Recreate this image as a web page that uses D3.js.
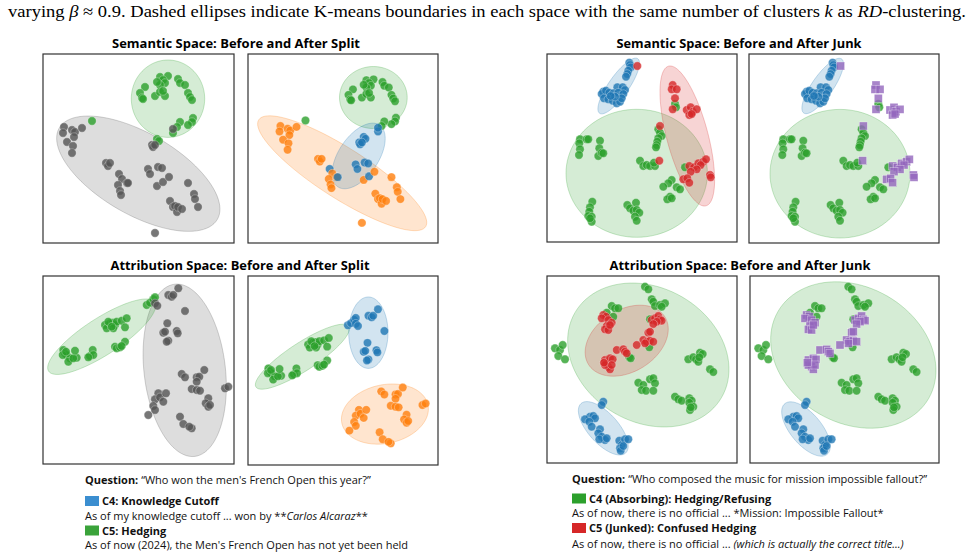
<!DOCTYPE html>
<html>
<head>
<meta charset="utf-8">
<script src="https://cdn.jsdelivr.net/npm/d3@7"></script>
<style>
  body { margin: 0; background: #fff; }
  svg { display: block; }
</style>
</head>
<body>
<div id="chart"></div>
<script>
// points: [x, y, clusterBefore, clusterAfter] in the "before" panel frame
var semSplitPts = [
  [117,23,"g","g"],[125,22,"g","g"],[120,26,"g","g"],[122,29,"g","g"],[117,31,"g","g"],[114,28,"g","g"],
  [102,33,"g","g"],[97,39,"g","g"],[99,44,"g","g"],[100,45,"g","g"],[112,42,"g","g"],[117,38,"g","g"],
  [122,42,"g","g"],[120,37,"g","g"],[135,25,"g","g"],[137,29,"g","g"],[142,31,"g","g"],[145,39,"g","g"],
  [147,43,"g","g"],[149,46,"g","g"],[150,64,"g","g"],[149,68,"g","g"],[145,71,"g","g"],[137,68,"g","g"],
  [134,73,"g","g"],[130,79,"g","b"],[114,85,"g","b"],[116,87,"g","b"],[49,67,"g","g"],
  [130,75,"k","b"],
  [21,73,"k","o"],[20,79,"k","o"],[29,76,"k","o"],[32,78,"k","o"],[39,74,"k","o"],[31,83,"k","o"],
  [24,88,"k","o"],[30,92,"k","o"],[29,99,"k","o"],
  [109,91,"k","b"],[110,93,"k","b"],[112,91,"k","b"],
  [63,109,"k","o"],[65,112,"k","o"],[67,109,"k","o"],
  [76,120,"k","b"],[79,125,"k","o"],[75,131,"k","o"],[77,137,"k","o"],[78,141,"k","o"],[84,129,"k","o"],[85,129,"k","b"],
  [105,115,"k","b"],[107,120,"k","b"],[115,113,"k","b"],[119,114,"k","b"],
  [114,132,"k","o"],[120,128,"k","b"],[126,123,"k","o"],
  [145,129,"k","o"],[151,140,"k","o"],[152,145,"k","o"],[155,153,"k","o"],
  [127,147,"k","o"],[130,153,"k","o"],[132,152,"k","o"],[134,158,"k","o"],[135,153,"k","o"],[139,155,"k","o"],
  [112,179,"k","o"]
];

var semJunkPts = [
  [82.3,8.7,"b","b"],[83,11,"b","b"],[83.7,13.3,"b","b"],[81.3,16.7,"b","b"],[80.3,20,"b","b"],[79,22.7,"b","b"],
  [70.3,33.3,"b","b"],[75.7,33.3,"b","b"],[78,36,"b","b"],[56.3,37.7,"b","b"],[54.7,40,"b","b"],[59,36.7,"b","b"],
  [62.3,38.7,"b","b"],[66.3,39.3,"b","b"],[71.3,38.7,"b","b"],[76.3,40,"b","b"],[57,44.3,"b","b"],[61.3,45.3,"b","b"],
  [65.7,46.7,"b","b"],[69.7,49.3,"b","b"],[73,47.7,"b","b"],[74.7,44.3,"b","b"],[68,42.7,"b","b"],[63.7,42,"b","b"],
  [128,50,"g","g"],[129,53.3,"g","g"],[138,113.3,"g","g"],
  [111.3,75.3,"g","g"],[113,78.7,"g","g"],[114.7,82,"g","g"],[111.3,84.3,"g","g"],[110.3,87.7,"g","g"],[109.7,91,"g","g"],[109,93.3,"g","g"],
  [33,85.3,"g","g"],[32.3,89.3,"g","g"],[33,95.3,"g","g"],[32,101,"g","g"],[39.7,85.3,"g","g"],[41.3,85.3,"g","g"],
  [53,86.7,"g","g"],[52.3,94.3,"g","g"],[51.3,102,"g","g"],[54.7,98.7,"g","g"],[56.3,99.3,"g","g"],
  [93,106.7,"g","g"],[96.3,112,"g","g"],[99.7,111,"g","g"],[103,112,"g","g"],[108,112,"g","g"],[107,108.7,"g","g"],
  [124.7,126,"g","g"],[121.3,129.3,"g","g"],[116.3,132.7,"g","g"],[123,142.7,"g","g"],[120.3,145.3,"g","g"],
  [124.7,144.3,"g","g"],[129.7,133.3,"g","g"],[133,135.3,"g","g"],
  [45.3,147.7,"g","g"],[43,153.3,"g","g"],[42.3,157.7,"g","g"],[41.3,162,"g","g"],[44.7,162.7,"g","g"],[44.7,167.7,"g","g"],[43,164.3,"g","g"],
  [80.3,151,"g","g"],[83,154.3,"g","g"],[89,148.7,"g","g"],[86.3,156.7,"g","g"],[89.7,156,"g","g"],[92.3,158.7,"g","g"],
  [88,162.7,"g","g"],[89.7,166.7,"g","g"],
  [90.3,12,"r","p"],[125.7,31,"r","p"],[124.7,35.3,"r","p"],[129.7,35.3,"r","p"],[128,44.3,"r","p"],[125.7,55.3,"r","p"],
  [139.7,56,"r","p"],[143.7,53.3,"r","p"],[145.7,57.7,"r","p"],[149.7,55.3,"r","p"],[142.3,61,"r","p"],[144.7,60,"r","p"],
  [113,72,"r","p"],[112.3,106.7,"r","p"],[142.3,112,"r","p"],[147,113.3,"r","p"],[151.3,109.3,"r","p"],[156.3,107.7,"r","p"],
  [159,105.3,"r","p"],[153.7,111,"r","p"],[149.7,115.3,"r","p"],[143.7,117.7,"r","p"],[136.3,125.3,"r","p"],
  [140.3,124.3,"r","p"],[142.3,128.7,"r","p"],[163,121,"r","p"],[163.7,123.3,"r","p"]
];

var attSplitPts = [
  [20.3,74,"g","g"],[22,77.3,"g","g"],[23.7,79,"g","g"],[19.7,79,"g","g"],[27,82.3,"g","g"],[25.3,85.7,"g","g"],
  [33.7,81.7,"g","g"],[30.3,82.3,"g","g"],[32,74.7,"g","g"],[23,75.7,"g","g"],
  [47,80,"g","g"],[49.7,74,"g","g"],[50.3,79,"g","g"],[45.3,81.3,"g","g"],
  [62,49,"g","g"],[63.7,52.3,"g","g"],[67,47.3,"g","g"],[69.7,46.7,"g","g"],[72,49,"g","g"],[70.3,52.3,"g","g"],
  [73.7,45.7,"g","g"],[78.7,44.7,"g","g"],[82,51.3,"g","g"],[83.7,42.3,"g","g"],[65.3,45.7,"g","g"],[68.7,50.7,"g","g"],
  [72,70.7,"g","g"],[73.7,72.3,"g","g"],[77,71.3,"g","g"],[82,65.7,"g","g"],[78.7,70,"g","g"],
  [103.7,29,"g","b"],[107,26.7,"g","b"],[110.3,23.3,"g","b"],[112,21.3,"g","b"],
  [112,27.3,"k","b"],[114.3,29.7,"k","b"],[125.3,19,"k","b"],[128.7,20.7,"k","b"],[130.3,19,"k","b"],[135.3,12.3,"k","b"],
  [142,35,"k","b"],[124.3,47.3,"k","b"],[120.3,56.7,"k","b"],[122,55.7,"k","b"],[133.7,55,"k","b"],[134.7,57.3,"k","b"],
  [125.3,64.7,"k","b"],[123.7,65.7,"k","b"],
  [138.7,98,"k","o"],[142,101.3,"k","o"],[153.7,101.3,"k","o"],[156.3,100.7,"k","o"],[153.7,105.7,"k","o"],
  [148.7,113,"k","o"],[153.7,114,"k","o"],[157,114.7,"k","o"],[161.3,94,"k","o"],
  [115.3,117.3,"k","o"],[112,123.3,"k","o"],[117,121.3,"k","o"],[120.3,125.7,"k","o"],[123,117.3,"k","o"],
  [110.3,130,"k","o"],[112,134,"k","o"],[105.3,139,"k","o"],
  [165.3,122.3,"k","o"],[162.7,127.3,"k","o"],[165.3,130.7,"k","o"],[167,129,"k","o"],
  [182,112.3,"k","o"],[185.3,110.7,"k","o"],
  [137,140.7,"k","o"],[140.3,148,"k","o"],[148.7,152.3,"k","o"],[146.3,150.7,"k","o"]
];

var attJunkPts = [
  [8,72.3,"g","g"],[13,74,"g","g"],[15.7,69,"g","g"],[11.3,80,"g","g"],[18,83.3,"g","g"],
  [98,10.7,"g","g"],[101.3,13.3,"g","g"],[104.7,23.3,"g","g"],[106.3,25.7,"g","g"],[108,30,"g","g"],
  [113,29,"g","g"],[118,27.3,"g","g"],[114.7,30.7,"g","g"],
  [64.7,30,"g","g"],[68,32.3,"g","g"],[71.3,32.3,"g","g"],[59.7,36.7,"g","g"],[66.3,40.7,"g","g"],
  [103,43.3,"g","g"],[102.3,71.3,"g","g"],[82.3,81.3,"g","g"],[83.7,82.3,"g","g"],
  [141.3,83.3,"g","g"],[146.3,81.3,"g","g"],[149,83.3,"g","g"],[151.3,85.7,"g","g"],[153,76.7,"g","g"],
  [155.7,78,"g","g"],[152.3,81.3,"g","g"],[163,93.3,"g","g"],[166.3,96,"g","g"],
  [91.3,106.7,"g","g"],[96.3,109,"g","g"],[94.7,114,"g","g"],[99,114.7,"g","g"],[103,103.3,"g","g"],
  [106.3,102.3,"g","g"],[108,107.3,"g","g"],[106.3,114.7,"g","g"],
  [128,120.7,"g","g"],[131.3,123.3,"g","g"],[134.7,124.7,"g","g"],[142.3,122.3,"g","g"],[144.7,124.7,"g","g"],
  [142.3,126.7,"g","g"],[146.3,130.7,"g","g"],[143,134,"g","g"],[143.7,131.3,"g","g"],
  [56.3,39,"r","p"],[59,40.7,"r","p"],[54.7,42.3,"r","p"],[61.3,44,"r","p"],[64.7,46.7,"r","p"],[59.7,50,"r","p"],
  [58,53.3,"r","p"],[61.3,54,"r","p"],[63,49,"r","p"],
  [104.7,44,"r","p"],[108,42.3,"r","p"],[111.3,40,"r","p"],[113,43.3,"r","p"],[114.7,44.7,"r","p"],[109.7,45.7,"r","p"],
  [106.3,48,"r","p"],[101.3,56.7,"r","p"],[103,55.7,"r","p"],[96.3,64,"r","p"],[99.7,65.7,"r","p"],[103,64.7,"r","p"],
  [106.3,65.7,"r","p"],[98,67.3,"r","p"],
  [69.7,74,"r","p"],[76.3,73.3,"r","p"],[78,75.7,"r","p"],[79.7,77.3,"r","p"],[89.7,69,"r","p"],
  [58,84,"r","p"],[59.7,87.3,"r","p"],[63,82.3,"r","p"],[65.7,83.3,"r","p"],[61.3,90.7,"r","p"],[63,93.3,"r","p"],
  [58,89,"r","p"],[64.7,89,"r","p"],[57,86.7,"r","p"],
  [56.3,125.7,"b","b"],[54.7,129,"b","b"],[43,140.7,"b","b"],[38,143.3,"b","b"],[46.3,140,"b","b"],[48,142.3,"b","b"],
  [42.3,145.7,"b","b"],[44.7,150.7,"b","b"],[53,153.3,"b","b"],[51.3,157.3,"b","b"],[54.7,160.7,"b","b"],
  [58,164,"b","b"],[52.3,163.3,"b","b"],[59.7,162.3,"b","b"],[72.3,164.7,"b","b"],[74.7,169,"b","b"],
  [73,172.3,"b","b"],[78,163.3,"b","b"],[81.3,163.3,"b","b"],[73.7,174.7,"b","b"],[76.3,170,"b","b"]
];

// cluster ellipses: [cluster, cx, cy, semi-axis a, semi-axis b, angle deg]
var semSplitEllBefore = [["k",95.3,119.7,91.3,40.7,30],["g",125,44.7,36.7,38.7,0]];
var semSplitEllAfter = [["o",90,124.7,110,27.6,32],["g",124.8,41.9,37.8,33.9,0],["b",108.4,105.8,41,22,-55]];
var semJunkEllBefore = [["g",89.7,119.3,70.7,64,0],["r",140.3,82,72.3,20.6,75],["b",71.7,32,33.3,10,-55]];
var semJunkEllAfter = [["g",89.7,119.7,70,64.3,0],["b",72.4,32,33,10.5,-55]];
var attSplitEllBefore = [["k",141.7,94.3,40.7,86.7,-6.6],["g",58.7,60.7,63.3,18.3,-33]];
var attSplitEllAfter = [["g",56,61.8,58.1,14.6,-33],["b",125.2,36.7,20.6,37.3,0],["o",142.6,121.7,46.2,30.6,-12]];
var attJunkEllBefore = [["g",101.3,79,84.7,67.2,30],["r",79.7,64.7,45,31,-32],["b",56.3,152.3,33.3,15,48]];
var attJunkEllAfter = [["g",103,79,87,68,30],["b",55.7,153,33,15.5,50]];

var clusterColors = { g: "#2ca02c", k: "#555555", o: "#ff7f0e", b: "#1f77b4", r: "#d62728", p: "#9467bd" };

var w = 980, h = 558;

var svg = d3.select("#chart").append("svg")
    .attr("width", w)
    .attr("height", h)
    .style("font-family", "'Open Sans', 'Noto Sans', sans-serif");

function drawPanel(box, xDom, yDom, pts, which, ells) {
    var x = d3.scaleLinear().domain(xDom).range([box[0], box[1]]);
    var y = d3.scaleLinear().domain(yDom).range([box[2], box[3]]);
    var g = svg.append("g");

    // cluster ellipses, sampled in data space
    var line = d3.line().x(function(d) { return x(d[0]); }).y(function(d) { return y(d[1]); })
        .curve(d3.curveLinearClosed);
    ells.forEach(function(e) {
        var rad = e[5] * Math.PI / 180;
        var ring = d3.range(0, 96).map(function(i) {
            var t = i / 96 * 2 * Math.PI;
            var px = e[3] * Math.cos(t), py = e[4] * Math.sin(t);
            return [e[1] + px * Math.cos(rad) - py * Math.sin(rad),
                    e[2] + px * Math.sin(rad) + py * Math.cos(rad)];
        });
        g.append("path")
            .attr("d", line(ring))
            .attr("fill", clusterColors[e[0]])
            .attr("fill-opacity", 0.2)
            .attr("stroke", clusterColors[e[0]])
            .attr("stroke-opacity", 0.25)
            .attr("stroke-width", 1);
    });

    var circ = pts.filter(function(d) { return d[which] !== "p"; });
    var sq = pts.filter(function(d) { return d[which] === "p"; });

    g.selectAll("circle.pt")
        .data(circ)
        .enter()
        .append("circle")
        .attr("class", "pt")
        .attr("cx", function(d) { return x(d[0]); })
        .attr("cy", function(d) { return y(d[1]); })
        .attr("r", 4.2)
        .attr("fill", function(d) { return clusterColors[d[which]]; })
        .attr("fill-opacity", 0.8)
        .attr("stroke", "#fff")
        .attr("stroke-width", 0.5)
        .attr("stroke-opacity", 0.6);

    g.selectAll("rect.pt")
        .data(sq)
        .enter()
        .append("rect")
        .attr("class", "pt")
        .attr("x", function(d) { return x(d[0]) - 4; })
        .attr("y", function(d) { return y(d[1]) - 4; })
        .attr("width", 8)
        .attr("height", 8)
        .attr("fill", clusterColors.p)
        .attr("fill-opacity", 0.8)
        .attr("stroke", "#fff")
        .attr("stroke-width", 0.5)
        .attr("stroke-opacity", 0.6);

    g.append("rect")
        .attr("x", box[0])
        .attr("y", box[2])
        .attr("width", box[1] - box[0])
        .attr("height", box[3] - box[2])
        .attr("fill", "none")
        .attr("stroke", "#333")
        .attr("stroke-width", 1.2);
}

// top row
drawPanel([43, 234, 54, 243], [0, 191], [0, 189], semSplitPts, 2, semSplitEllBefore);
drawPanel([248, 438, 54, 243], [-15.2, 197], [-5.7, 201], semSplitPts, 3, semSplitEllAfter);
drawPanel([547, 737, 54, 242], [0, 190], [0, 188], semJunkPts, 2, semJunkEllBefore);
drawPanel([749, 939, 54, 243], [-1.3, 188.7], [0, 189], semJunkPts, 3, semJunkEllAfter);
// bottom row
drawPanel([43, 234, 276, 464], [0, 191], [0, 188], attSplitPts, 2, attSplitEllBefore);
drawPanel([248, 438, 276, 465], [-1.1, 198.3], [-22.5, 174.9], attSplitPts, 3, attSplitEllAfter);
drawPanel([547, 737, 276, 463], [0, 190], [0, 187], attJunkPts, 2, attJunkEllBefore);
drawPanel([750, 939, 276, 463], [-0.3, 188.7], [0, 187], attJunkPts, 3, attJunkEllAfter);

// panel titles
var titles = [
    ["Semantic Space: Before and After Split", 236, 48, 248],
    ["Semantic Space: Before and After Junk", 739, 48, 245],
    ["Attribution Space: Before and After Split", 240, 270, 259],
    ["Attribution Space: Before and After Junk", 740, 270, 261]
];
titles.forEach(function(t) {
    svg.append("text")
        .attr("x", t[1])
        .attr("y", t[2])
        .attr("text-anchor", "middle")
        .attr("font-size", 13)
        .attr("font-weight", "bold")
        .attr("textLength", t[3])
        .attr("lengthAdjust", "spacingAndGlyphs")
        .text(t[0]);
});

// caption line
var cap = svg.append("text")
    .attr("x", 8)
    .attr("y", 17)
    .attr("font-family", "'Liberation Serif', 'DejaVu Serif', serif")
    .attr("font-size", 17)
    .attr("textLength", 958)
    .attr("lengthAdjust", "spacingAndGlyphs");
cap.append("tspan").text("varying ");
cap.append("tspan").attr("font-style", "italic").text("β");
cap.append("tspan").text(" \u2248 0.9. Dashed ellipses indicate K-means boundaries in each space with the same number of clusters ");
cap.append("tspan").attr("font-style", "italic").text("k");
cap.append("tspan").text(" as ");
cap.append("tspan").attr("font-style", "italic").text("RD");
cap.append("tspan").text("-clustering.");

// question / cluster legends
function legendBlock(x0, rows) {
    rows.forEach(function(r) {
        var t = svg.append("text")
            .attr("x", x0 + (r.sw ? 17 : 0))
            .attr("y", r.y)
            .attr("font-size", 11)
            .attr("fill", "#111");
        if (r.sw) {
            svg.append("rect")
                .attr("x", x0)
                .attr("y", r.y - 9)
                .attr("width", 14)
                .attr("height", 10)
                .attr("fill", r.sw);
        }
        r.parts.forEach(function(p) {
            var s = t.append("tspan").text(p[0]);
            if (p[1] === "b") s.attr("font-weight", "bold");
            if (p[1] === "i") s.attr("font-style", "italic");
        });
    });
}

legendBlock(85, [
    { y: 484, parts: [["Question: ", "b"], ["\u201cWho won the men's French Open this year?\u201d", ""]] },
    { y: 505, sw: "#3b8ed0", parts: [["C4: Knowledge Cutoff", "b"]] },
    { y: 519.5, parts: [["As of my knowledge cutoff ... won by **", ""], ["Carlos Alcaraz", "i"], ["**", ""]] },
    { y: 534.5, sw: "#3aa33a", parts: [["C5: Hedging", "b"]] },
    { y: 549, parts: [["As of now (2024), the Men's French Open has not yet been held", ""]] }
]);

legendBlock(572, [
    { y: 483, parts: [["Question: ", "b"], ["\u201cWho composed the music for mission impossible fallout?\u201d", ""]] },
    { y: 502.5, sw: "#2ca02c", parts: [["C4 (Absorbing): Hedging/Refusing", "b"]] },
    { y: 517, parts: [["As of now, there is no official ... *Mission: Impossible Fallout*", ""]] },
    { y: 532, sw: "#d62728", parts: [["C5 (Junked): Confused Hedging", "b"]] },
    { y: 547.5, parts: [["As of now, there is no official ... ", ""], ["(which is actually the correct title...)", "i"]] }
]);
</script>
</body>
</html>
